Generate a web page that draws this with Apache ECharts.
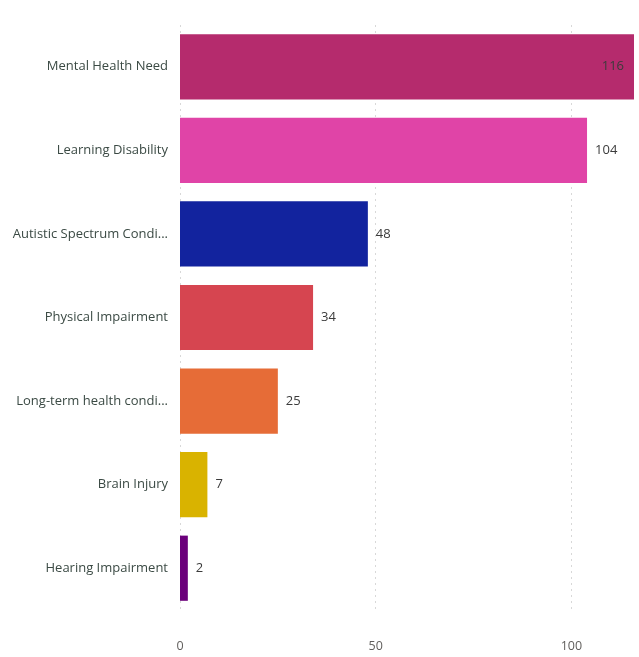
<!DOCTYPE html>
<html><head><meta charset="utf-8">
<script src="https://cdn.jsdelivr.net/npm/echarts@6/dist/echarts.min.js"></script>
<style>html,body{margin:0;padding:0;background:#fff}#c{width:639px;height:657px}</style>
</head><body><div id="c"></div>
<script>
const categories = ["Mental Health Need","Learning Disability","Autistic Spectrum Condi...","Physical Impairment","Long-term health condi...","Brain Injury","Hearing Impairment"];
const values = [116,104,48,34,25,7,2];
const colors = ["#B52B6D","#E044A7","#12239E","#D64550","#E66C37","#D9B300","#6B007B"];
const xTicks = [0,50,100];

const chart = echarts.init(document.getElementById('c'));
const font = "'Open Sans', 'Noto Sans', sans-serif";
chart.setOption({
  animation:false,
  grid:{left:180,right:5,top:25,bottom:47,containLabel:false},
  xAxis:{type:'value',min:0,max:116,interval:50,
    axisLine:{show:false},axisTick:{show:false},
    splitLine:{show:false},
    axisLabel:{color:'#605E5C',fontSize:12.5,fontFamily:font,margin:30,
      formatter:v=>xTicks.includes(v)?String(v):''}},
  yAxis:{type:'category',inverse:true,data:categories,
    axisLine:{show:false},axisTick:{show:false},
    axisLabel:{color:'#3b4a44',fontSize:13,fontFamily:font,margin:12}},
  series:[{type:'bar',barCategoryGap:'22%',z:3,
    data:values.map((v,i)=>({value:v,itemStyle:{color:colors[i]},
      label:{show:true,position:i===0?'insideRight':'right',distance:i===0?10:8,color:'#3b3b3b',fontSize:13,fontFamily:font}})),
    markLine:{silent:true,symbol:'none',label:{show:false},z:1,
      lineStyle:{type:[2,4],color:'#d8d8d8',width:1},
      data:xTicks.map(t=>({xAxis:t}))}
  }]
});
</script></body></html>
